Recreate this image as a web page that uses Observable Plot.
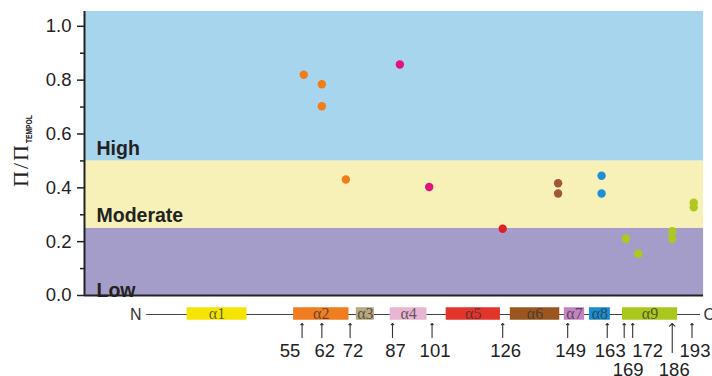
<!DOCTYPE html>
<html><head><meta charset="utf-8">
<script src="https://cdn.jsdelivr.net/npm/d3@7"></script>
<script src="https://cdn.jsdelivr.net/npm/@observablehq/plot@0.6"></script>
<style>body{margin:0;background:#fff} #chart svg{display:block}</style>
</head><body><div id="chart"></div>
<script>
// ---- data ----
const bandNames = ["Low", "Moderate", "High"];
const bandLo = [0, 0.25, 0.5];
const bandHi = [0.25, 0.5, 1.055];
const yTicks = [0, 0.2, 0.4, 0.6, 0.8, 1.0];
const yMinorTicks = [0.1, 0.3, 0.5, 0.7, 0.9];

const pointResidue = [55.6, 62, 62, 70.5, 89.6, 100, 126, 145.6, 145.6, 161, 161, 169.6, 174, 186, 186, 193.6, 193.6];
const pointValue   = [0.82, 0.785, 0.703, 0.431, 0.858, 0.403, 0.248, 0.417, 0.379, 0.445, 0.379, 0.211, 0.155, 0.239, 0.211, 0.345, 0.328];
const pointGroup   = ["a2","a2","a2","a2","a4","a4","a5","a6","a6","a8","a8","a9","a9","a9","a9","a9","a9"];

const helixNames = ["α1","α2","α3","α4","α5","α6","α7","α8","α9"];
const helixStart = [14.3, 52, 74.2, 86.2, 106, 128.7, 147.8, 156.7, 168.4];
const helixEnd   = [35.5, 71.6, 80.6, 99.2, 125.2, 146.2, 155, 164.1, 187.9];

const siteResidue = [55, 62, 72, 87, 101, 126, 149, 163, 169, 172, 186, 193];
const siteRow     = [1, 1, 1, 1, 1, 1, 1, 1, 2, 1, 2, 1];

const proteinStart = 0, proteinEnd = 196;

// ---- styles / layout ----
const bandColors = {Low: "#a59dc9", Moderate: "#f7f0b7", High: "#a7d5ee"};
const pointColors = {a2: "#f07d1a", a4: "#e0147f", a5: "#e31e24", a6: "#a0583c", a8: "#1d8fd6", a9: "#b0c81e"};
const helixColors = ["#f5e400", "#f07d20", "#b9a77e", "#e9b5d2", "#e2342a", "#9b561f", "#c383c0", "#1a8dd0", "#aac71e"];
const labelDx = {55: -12, 169: 4, 172: 15, 186: 2};
const xDomain = [-22, 197.1];
const yDomain = [0, 1.055];
const sans = "Liberation Sans, Arial, Helvetica, sans-serif";
const serif = "Liberation Serif, Times New Roman, serif";
const ink = "#222";

const bands = bandNames.map((name, i) => ({name, lo: bandLo[i], hi: bandHi[i]}));
const points = pointResidue.map((x, i) => ({x, y: pointValue[i], g: pointGroup[i]}));
const helices = helixNames.map((name, i) => ({name, start: helixStart[i], end: helixEnd[i], color: helixColors[i]}));
const sites = siteResidue.map((res, i) => ({res, row: siteRow[i], long: siteResidue[i] === 186}));

const bandText = (filter, dy) => Plot.text(bands, {filter, y: "lo", text: "name", frameAnchor: "left", dx: 12, dy,
  textAnchor: "start", lineAnchor: "bottom", fontSize: 19.5, fontWeight: "bold", fill: ink, fontFamily: sans});
const arrows = (filter, dy, length) => Plot.vector(sites, {filter, x: "res", y: 0, dy, length, rotate: 0, anchor: "start",
  shape: "arrow", r: 1.6, stroke: "#333", strokeWidth: 1.1});
const siteText = (filter, dy) => Plot.text(sites, {filter, x: "res", y: 0, dy, text: d => String(d.res),
  fontSize: 18.5, fill: ink, render: (i, s, v, d, c, next) => {
    const g = next(i, s, v, d, c);
    d3.select(g).selectAll("text").attr("dx", (_, k) => labelDx[sites[i[k]].res] ?? 3);
    return g;
  }});

const chart = Plot.plot({
  width: 712,
  height: 376,
  marginTop: 11,
  marginBottom: 81,
  marginLeft: 84,
  marginRight: 8.9,
  style: {fontFamily: sans, fontSize: "18px", background: "#fff", overflow: "visible"},
  x: {domain: xDomain, axis: null},
  y: {domain: yDomain, axis: null},
  marks: [
    Plot.rect(bands, {x1: xDomain[0], x2: xDomain[1], y1: "lo", y2: "hi", fill: d => bandColors[d.name]}),
    bandText(d => d.name === "Low", 1),
    bandText(d => d.name !== "Low", -6),
    Plot.dot(points, {x: "x", y: "y", r: 4.2, fill: d => pointColors[d.g], stroke: "none"}),
    Plot.ruleY([0], {x1: xDomain[0], x2: xDomain[1], stroke: ink, strokeWidth: 2}),
    Plot.ruleX([xDomain[0]], {y1: -0.004, y2: yDomain[1], stroke: ink, strokeWidth: 2}),
    Plot.axisY({ticks: yTicks, tickFormat: d3.format(".1f"), tickSize: 7, tickPadding: 6, stroke: ink, fill: ink, fontSize: 18.5, strokeWidth: 1.5}),
    Plot.axisY({ticks: yMinorTicks, tickSize: 4, text: null, stroke: ink, strokeWidth: 1.5}),
    // protein schematic (below the axis)
    Plot.ruleY([0], {x1: proteinStart, x2: proteinEnd, dy: 19, stroke: "#444", strokeWidth: 1}),
    Plot.ruleY(helices, {y: 0, x1: "start", x2: "end", dy: 18, stroke: "color", strokeWidth: 12.5}),
    Plot.text(helices, {x: d => (d.start + d.end) / 2, y: 0, dy: 18, text: "name", fontFamily: serif, fontSize: 16, fill: "#333", fillOpacity: 0.75}),
    Plot.text(["N"], {x: proteinStart, y: 0, dy: 19, dx: -5, text: d => d, textAnchor: "end", fontSize: 16, fill: "#333"}),
    Plot.text(["C"], {x: proteinEnd, y: 0, dy: 19, dx: 3, text: d => d, textAnchor: "start", fontSize: 16, fill: "#333"}),
    arrows(d => !d.long, 42, 14),
    arrows(d => d.long, 57, 29),
    siteText(d => d.row === 1, 56),
    siteText(d => d.row === 2, 75)
  ]
});
document.getElementById("chart").appendChild(chart);

// y-axis title with subscript
const title = d3.select(chart).append("text")
  .attr("transform", "translate(28,151) rotate(-90)")
  .attr("text-anchor", "middle")
  .attr("fill", ink);
title.append("tspan").attr("font-family", serif).attr("font-size", 22).attr("letter-spacing", 2).text("Π/Π");
title.append("tspan").attr("font-family", sans).attr("font-weight", "bold").attr("font-size", 9)
  .attr("dy", 4).attr("textLength", 28).attr("lengthAdjust", "spacingAndGlyphs").text("TEMPOL");
</script></body></html>
